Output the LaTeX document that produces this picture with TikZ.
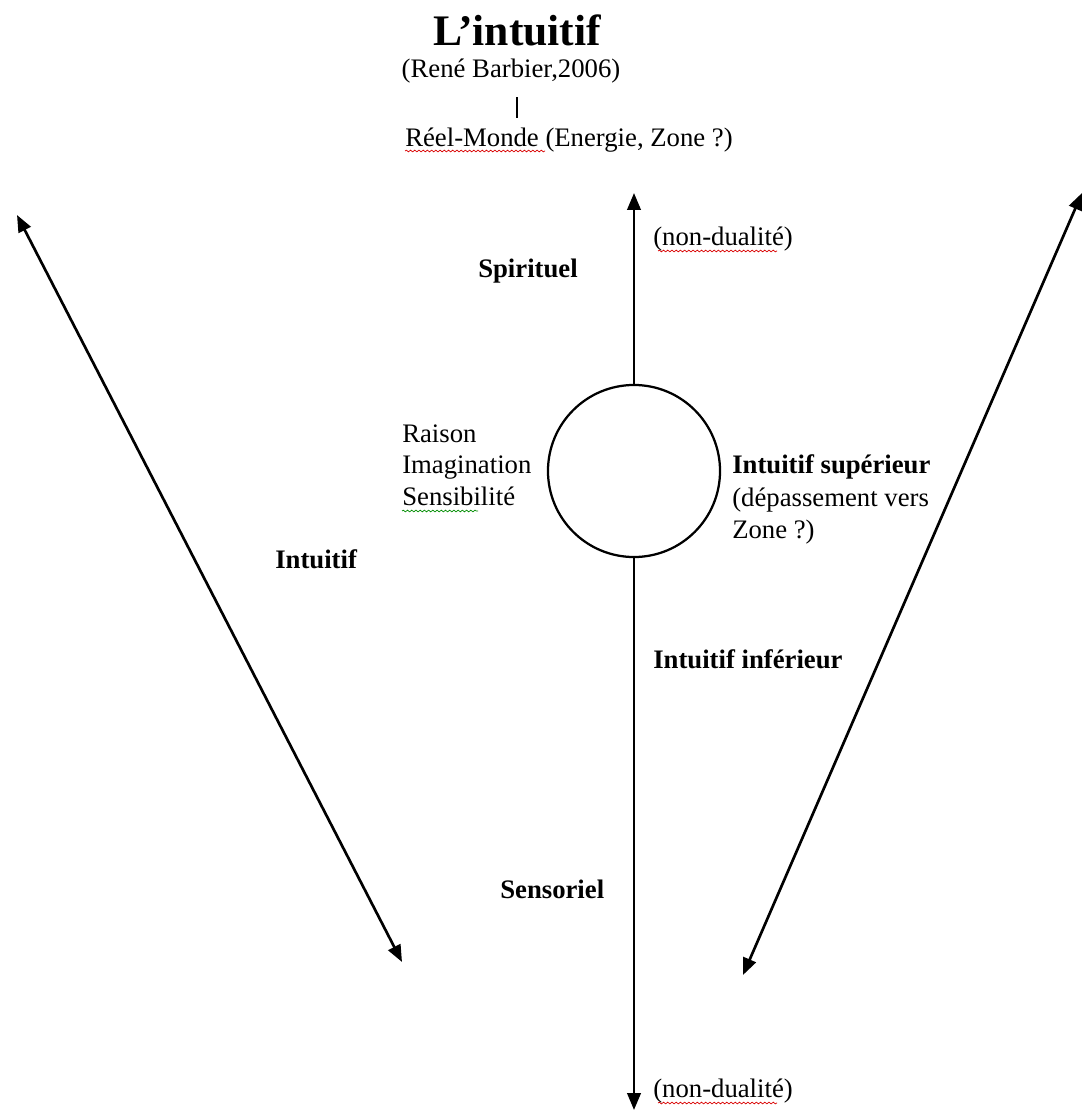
\documentclass[tikz,border=0pt]{standalone}
\usepackage{fontspec}
\setmainfont{Liberation Serif}
\usetikzlibrary{arrows.meta,decorations.pathmorphing}

\tikzset{
  txt/.style={inner sep=0pt, anchor=base west, font=\fontsize{19}{23}\selectfont},
  boldtxt/.style={txt, font=\fontsize{19}{23}\selectfont\bfseries},
  axis/.style={line width=1.9pt, -{Triangle[length=12pt,width=9.5pt]}},
  both/.style={line width=1.9pt, {Triangle[length=12pt,width=9.5pt]}-{Triangle[length=12pt,width=9.5pt]}},
  spell/.style={red!85!black, line width=0.5pt, decorate,
    decoration={snake, amplitude=0.6pt, segment length=3pt}},
}

\begin{document}
\begin{tikzpicture}[x=0.025cm, y=-0.025cm]
  \useasboundingbox (0,0) rectangle (1084,1111);

  % title block
  \node[inner sep=0pt, anchor=base, font=\fontsize{31}{34}\selectfont\bfseries] (title) at (517,45) {L’intuitif};
  \node[txt, anchor=base] (ref) at (511,77) {(René Barbier,2006)};
  \draw[line width=1.1pt] (517,97) -- (517,118);
  \node[txt] (world) at (405,146) {Réel-Monde (Energie, Zone ?)};
  \draw[spell] (405,151) -- (545,151);

  % central axis
  \node[draw, circle, line width=1.6pt, minimum size=4.3cm, inner sep=0pt] (core) at (634,471) {};
  \coordinate (top) at (634,193);
  \coordinate (bot) at (634,1110);
  \draw[axis] (core) -- (top);
  \draw[axis] (core) -- (bot);

  % side arrows
  \coordinate (lt) at (17,215);
  \coordinate (lb) at (402,962);
  \coordinate (rt) at (1082,193);
  \coordinate (rb) at (743,975);
  \draw[both] (lt) -- (lb);
  \draw[both] (rt) -- (rb);

  % labels
  \node[txt] (nd1) at (653,245) {(non-dualité)};
  \draw[spell] (658,251) -- (777,251);
  \node[boldtxt] (spi) at (478,277) {Spirituel};

  \node[txt] (rai) at (402,442) {Raison};
  \node[txt] (ima) at (402,473) {Imagination};
  \node[txt] (sen) at (402,505) {Sensibilité};
  \draw[spell, green!55!black] (402,511) -- (478,511);

  \node[boldtxt] (sup) at (732,473) {Intuitif supérieur};
  \node[txt] (dep) at (732,506) {(dépassement vers};
  \node[txt] (zon) at (732,538) {Zone ?)};

  \node[boldtxt] (intu) at (275,568) {Intuitif};
  \node[boldtxt] (inf) at (653,668) {Intuitif inférieur};
  \node[boldtxt] (sens) at (500,898) {Sensoriel};

  \node[txt] (nd2) at (653,1097) {(non-dualité)};
  \draw[spell] (658,1103) -- (777,1103);
\end{tikzpicture}
\end{document}
